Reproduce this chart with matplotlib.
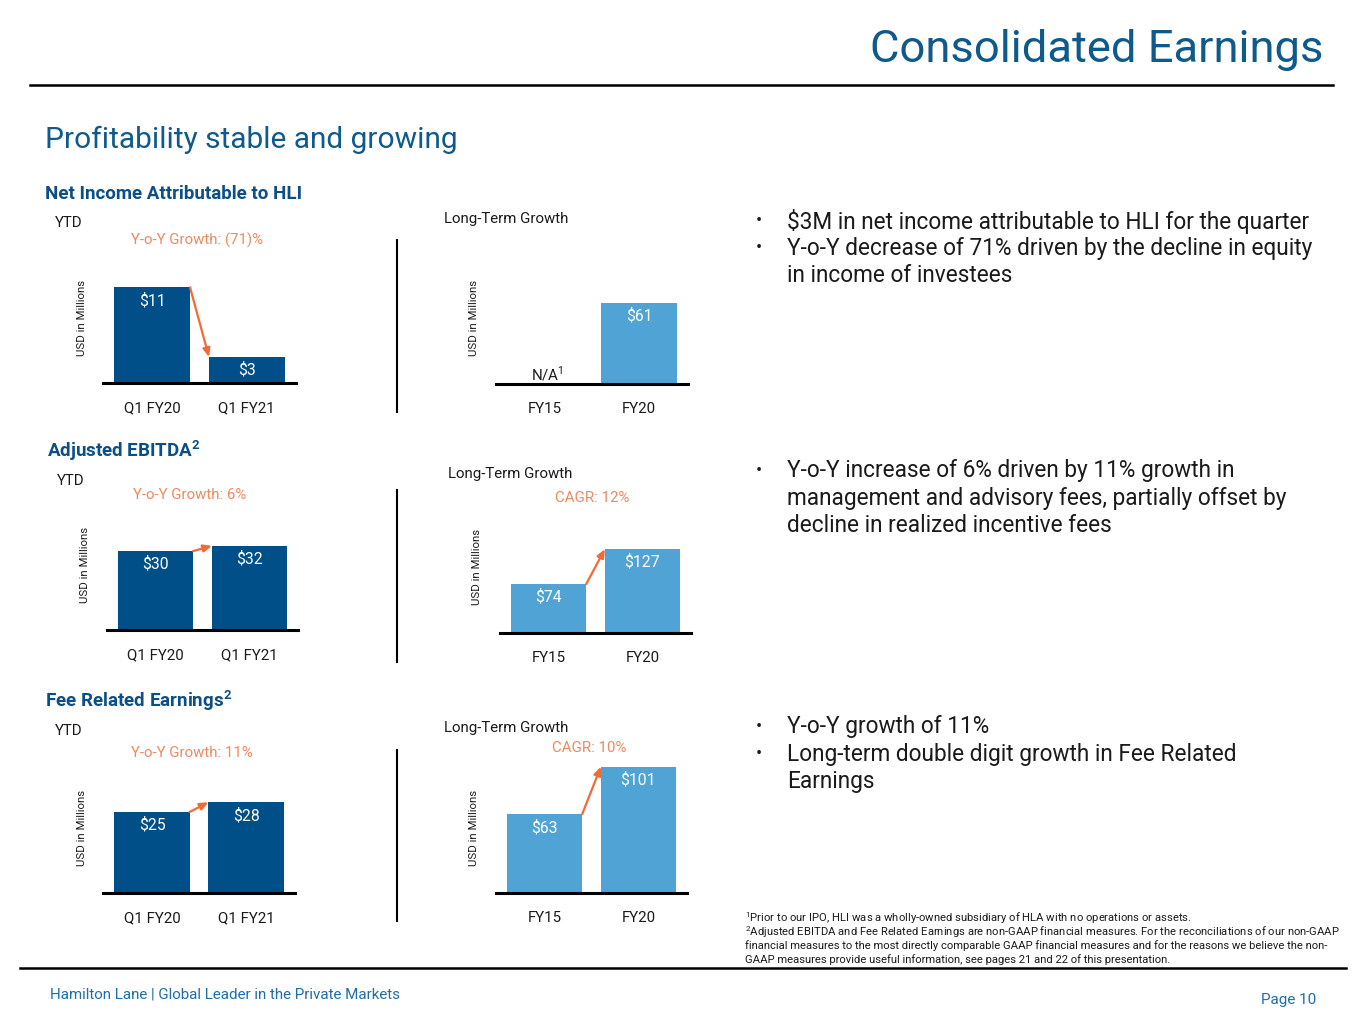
import matplotlib
matplotlib.use("Agg")
import matplotlib.pyplot as plt
from matplotlib.lines import Line2D

plt.rcParams['font.family'] = ['Roboto', 'DejaVu Sans']
plt.rcParams['mathtext.fontset'] = 'custom'
plt.rcParams['mathtext.rm'] = 'Roboto'
plt.rcParams['mathtext.bf'] = 'Roboto:bold'

# ---- data ----
ytd_labels = ['Q1 FY20', 'Q1 FY21']
lt_labels = ['FY15', 'FY20']

ni_ytd = [11, 3]
ni_lt = [None, 61]          # FY15 not available
ebitda_ytd = [30, 32]
ebitda_lt = [74, 127]
fre_ytd = [25, 28]
fre_lt = [63, 101]

ni_growth = 'Y-o-Y Growth: (71)%'
ebitda_growth = 'Y-o-Y Growth: 6%'
fre_growth = 'Y-o-Y Growth: 11%'
ebitda_cagr = 'CAGR: 12%'
fre_cagr = 'CAGR: 10%'

ni_bullets = ['$3M in net income attributable to HLI for the quarter',
              'Y-o-Y decrease of 71% driven by the decline in equity\nin income of investees']
ebitda_bullets = ['Y-o-Y increase of 6% driven by 11% growth in\nmanagement and advisory fees, partially offset by\ndecline in realized incentive fees']
fre_bullets = ['Y-o-Y growth of 11%',
               'Long-term double digit growth in Fee Related\nEarnings']

footnotes = [
    '$^{1}$Prior to our IPO, HLI was a wholly-owned subsidiary of HLA with no operations or assets.',
    '$^{2}$Adjusted EBITDA and Fee Related Earnings are non-GAAP financial measures. For the reconciliations of our non-GAAP',
    'financial measures to the most directly comparable GAAP financial measures and for the reasons we believe the non-',
    'GAAP measures provide useful information, see pages 21 and 22 of this presentation.',
]

# ---- style ----
W, H = 1365, 1024
DARK = '#004f88'
LIGHT = '#4fa4d5'
ORANGE = '#f26a36'
ORANGE_TXT = '#ec8a60'
TITLE_BLUE = '#0d5a8b'
HEAD_BLUE = '#0b4f86'
TEXT = '#1a1a1a'
SMALL = 10.8

fig = plt.figure(figsize=(W / 100, H / 100), dpi=100)


def ftext(x, y, s, **kw):
    kw.setdefault('color', TEXT)
    kw.setdefault('va', 'center')
    return fig.text(x / W, 1 - y / H, s, **kw)


def fline(xs, ys, lw=1.5, color='black'):
    fig.add_artist(Line2D([x / W for x in xs], [1 - y / H for y in ys],
                          transform=fig.transFigure, color=color, lw=lw))


def bar_chart(left, base, width, labels, values, color, ymax, height=170):
    ax = fig.add_axes([left / W, 1 - base / H, width / W, height / H])
    xs = range(len(values))
    for x, v in zip(xs, values):
        if v is None:
            ax.annotate('N/A$^{1}$', (x + 0.03, 0), xytext=(0, 10), textcoords='offset pixels',
                        ha='center', va='center', fontsize=SMALL, color=TEXT)
            continue
        ax.bar(x, v, width=0.8, color=color, zorder=2)
        ax.annotate(f'${v}', (x, v), xytext=(0, -13), textcoords='offset pixels',
                    ha='center', va='center', color='white', fontsize=11.3)
    ax.set_xlim(-0.52, len(values) - 0.48)
    ax.set_ylim(0, ymax)
    ax.set_xticks(list(xs))
    ax.set_xticklabels(labels, fontsize=SMALL, color=TEXT)
    ax.tick_params(axis='x', length=0, pad=13)
    ax.set_yticks([])
    for s in ['top', 'right', 'left']:
        ax.spines[s].set_visible(False)
    ax.spines['bottom'].set_linewidth(2.2)
    ax.patch.set_alpha(0)
    if all(v is not None for v in values):
        ax.annotate('', xy=(0.6, values[1]), xytext=(0.4, values[0]),
                    arrowprops=dict(arrowstyle='-|>,head_length=0.5,head_width=0.22',
                                    color=ORANGE, lw=1.6, shrinkA=0, shrinkB=0))
    return ax


# ---- header ----
ftext(1323, 50, 'Consolidated Earnings', ha='right', fontsize=32.7, color=TITLE_BLUE)
fline([30, 1333], [85, 85], lw=1.8)
ftext(45, 140, 'Profitability stable and growing', fontsize=21.5, color=TITLE_BLUE)

# ---- section 1: Net income ----
ftext(45, 194, 'Net Income Attributable to HLI', fontsize=13.5, fontweight='bold', color=HEAD_BLUE)
ftext(55, 223, 'YTD', fontsize=SMALL)
ftext(197, 240, ni_growth, ha='center', fontsize=SMALL, color=ORANGE_TXT)
ftext(82, 318, 'USD in Millions', rotation=90, ha='center', fontsize=8.2)
bar_chart(103, 383, 193, ytd_labels, ni_ytd, DARK, 170 / 8.7)
fline([397, 397], [240, 412])
ftext(444, 219, 'Long-Term Growth', fontsize=SMALL)
ftext(474, 318, 'USD in Millions', rotation=90, ha='center', fontsize=8.2)
bar_chart(496, 384, 192, lt_labels, ni_lt, LIGHT, 170 / 1.33)

# ---- section 2: Adjusted EBITDA ----
ftext(47, 451, 'Adjusted EBITDA$^{\\mathbf{2}}$', fontsize=13.5, fontweight='bold', color=HEAD_BLUE)
ftext(57, 481, 'YTD', fontsize=SMALL)
ftext(190, 495, ebitda_growth, ha='center', fontsize=SMALL, color=ORANGE_TXT)
ftext(85, 565, 'USD in Millions', rotation=90, ha='center', fontsize=8.2)
bar_chart(107, 630, 191, ytd_labels, ebitda_ytd, DARK, 170 / 2.63)
fline([397, 397], [490, 662])
ftext(448, 474, 'Long-Term Growth', fontsize=SMALL)
ftext(592, 498, ebitda_cagr, ha='center', fontsize=SMALL, color=ORANGE_TXT)
ftext(477, 567, 'USD in Millions', rotation=90, ha='center', fontsize=8.2)
bar_chart(500, 633, 191, lt_labels, ebitda_lt, LIGHT, 170 / 0.66)

# ---- section 3: Fee related earnings ----
ftext(45, 701, 'Fee Related Earnings$^{\\mathbf{2}}$', fontsize=13.5, fontweight='bold', color=HEAD_BLUE)
ftext(55, 731, 'YTD', fontsize=SMALL)
ftext(192, 753, fre_growth, ha='center', fontsize=SMALL, color=ORANGE_TXT)
ftext(82, 828, 'USD in Millions', rotation=90, ha='center', fontsize=8.2)
bar_chart(103, 893, 192, ytd_labels, fre_ytd, DARK, 170 / 3.24)
fline([397, 397], [750, 921])
ftext(444, 728, 'Long-Term Growth', fontsize=SMALL)
ftext(589, 748, fre_cagr, ha='center', fontsize=SMALL, color=ORANGE_TXT)
ftext(474, 828, 'USD in Millions', rotation=90, ha='center', fontsize=8.2)
bar_chart(496, 893, 191, lt_labels, fre_lt, LIGHT, 170 / 1.25)

# ---- bullets ----
LINE = 27.3


def bullets(y, items):
    for item in items:
        ftext(756, y, '•', fontsize=13)
        for line in item.split('\n'):
            ftext(787, y, line, fontsize=16.3)
            y += LINE


bullets(221, ni_bullets)
bullets(471, ebitda_bullets)
bullets(727, fre_bullets)

# ---- footnotes & footer ----
for i, fn in enumerate(footnotes):
    ftext(745, 918 + i * 14, fn, fontsize=8.1)
fline([20, 1346], [968, 968], lw=1.8)
ftext(50, 994, 'Hamilton Lane | Global Leader in the Private Markets', fontsize=10.9, color='#1f6ea8')
ftext(1316, 1000, 'Page 10', ha='right', fontsize=11, color='#1f6ea8')

fig.savefig('out.png', dpi=100)
